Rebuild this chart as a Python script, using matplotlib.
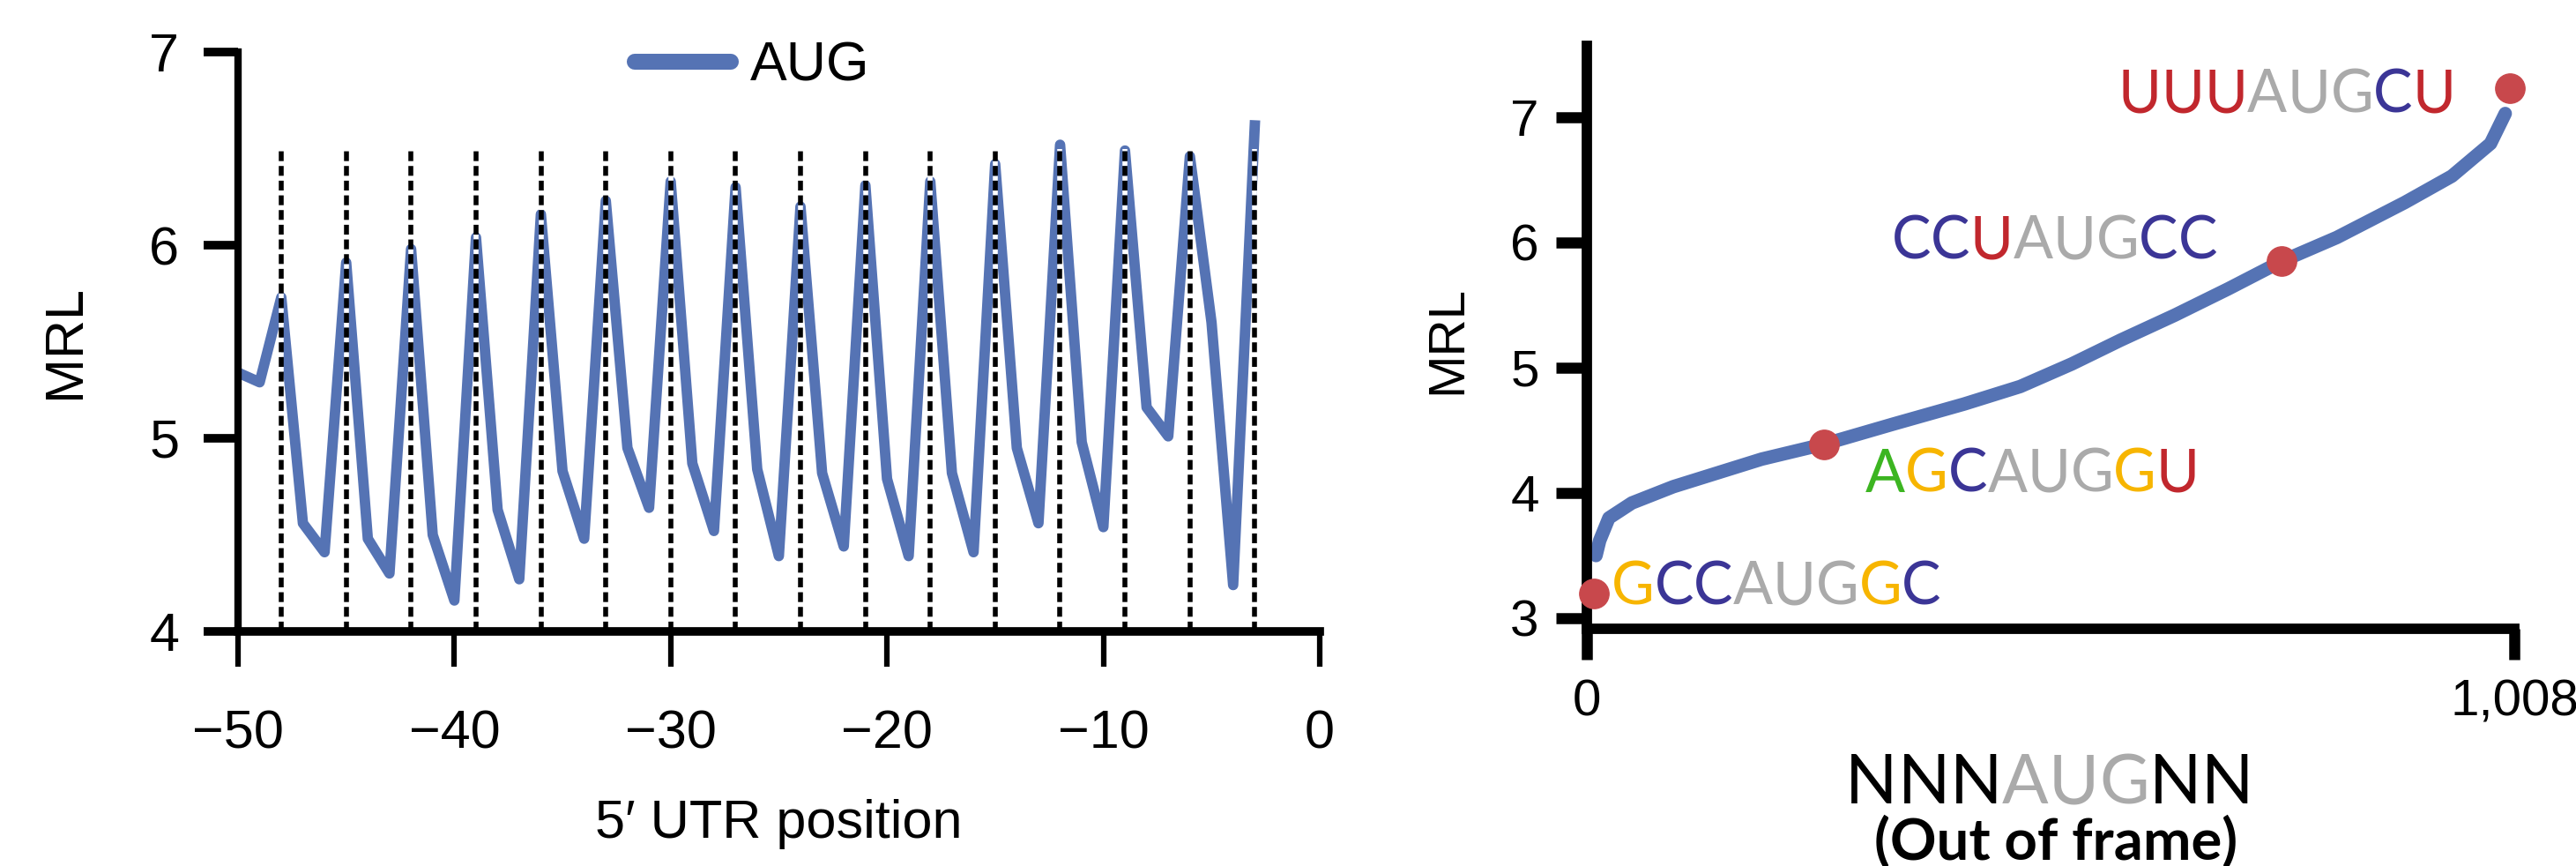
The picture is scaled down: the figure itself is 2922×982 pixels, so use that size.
import matplotlib.pyplot as plt
import numpy as np

plt.rcParams['font.family'] = ['Liberation Sans', 'DejaVu Sans']

# left panel: MRL by AUG position in the 5' UTR
positions = list(range(-50, -2))
aug_mrl = [5.34, 5.29, 5.73, 4.56, 4.41, 5.91, 4.48, 4.30, 5.98, 4.50,
           4.16, 6.04, 4.63, 4.27, 6.16, 4.83, 4.48, 6.23, 4.95, 4.64,
           6.33, 4.87, 4.52, 6.30, 4.84, 4.39, 6.20, 4.82, 4.44, 6.31,
           4.79, 4.39, 6.33, 4.82, 4.41, 6.42, 4.95, 4.56, 6.52, 4.98,
           4.54, 6.49, 5.16, 5.01, 6.46, 5.60, 4.24, 6.62]
frame_marks = list(range(-48, -2, 3))
left_xticks = [-50, -40, -30, -20, -10, 0]
left_yticks = [4, 5, 6, 7]

# right panel: sorted MRL of NNNAUGNN variants (out of frame)
rank = [10, 14, 24, 49, 94, 142, 190, 258, 333, 410, 471, 527, 580, 639,
        697, 755, 815, 889, 940, 982, 998]
rank_mrl = [3.50, 3.62, 3.80, 3.92, 4.05, 4.16, 4.27, 4.39, 4.55, 4.71,
            4.85, 5.03, 5.22, 5.42, 5.63, 5.85, 6.04, 6.32, 6.53, 6.79, 7.03]
seqs = ['GCCAUGGC', 'AGCAUGGU', 'CCUAUGCC', 'UUUAUGCU']
seq_rank = [8, 258, 755, 1003]
seq_mrl = [3.20, 4.39, 5.85, 7.23]
right_xticks = [0, 1008]
right_xlabels = ['0', '1,008']
right_yticks = [3, 4, 5, 6, 7]

BLUE = '#5573b4'
RED_DOT = '#c8484c'
GRAY = '#aaaaaa'
NUC = {'U': '#c1272d', 'C': '#3b3596', 'G': '#f7b500', 'A': '#3cb521', 'N': 'black'}


def draw_seq(ax, x, y, seq, size, transform):
    """letters coloured by nucleotide, the AUG core in grey"""
    t = None
    for i, ch in enumerate(seq):
        c = GRAY if 3 <= i <= 5 else NUC[ch]
        if t is None:
            t = ax.text(x, y, ch, color=c, fontsize=size, family='Lato',
                        transform=transform, va='baseline', ha='left')
        else:
            t = ax.annotate(ch, xy=(1, 0), xycoords=t, color=c, fontsize=size,
                            family='Lato', va='bottom', annotation_clip=False)


fig = plt.figure(figsize=(29.22, 9.82), dpi=100)

# ---- left panel
ax1 = fig.add_axes([0.0924, 0.2709, 0.4199, 0.669])
ax1.plot(positions, aug_mrl, color=BLUE, lw=8.5, label='AUG', zorder=2,
         solid_joinstyle='round')
for m in frame_marks:
    ax1.plot([m, m], [4, 6.5], color='black', lw=4.0, linestyle=(0, (2.0, 1.0)),
             gapcolor='white', zorder=3)
ax1.set_xlim(-50, 0)
ax1.set_ylim(4, 7)
ax1.set_xticks(left_xticks)
ax1.set_yticks(left_yticks)
for s in ['top', 'right']:
    ax1.spines[s].set_visible(False)
ax1.spines['left'].set_linewidth(6)
ax1.spines['bottom'].set_linewidth(7)
ax1.tick_params(axis='x', length=29, width=4.5, pad=35, labelsize=44)
ax1.tick_params(axis='y', length=28, width=7, pad=20, labelsize=44)
ax1.set_ylabel('MRL', fontsize=44, va='center')
ax1.yaxis.set_label_coords(-0.159, 0.5)
ax1.set_xlabel('5\u2032 UTR position', fontsize=44, va='baseline')
ax1.xaxis.set_label_coords(0.5, -0.356)
leg = ax1.legend(loc='center left', bbox_to_anchor=(0.2464, 0.9236),
                 bbox_transform=fig.transFigure, frameon=False, fontsize=45,
                 handlelength=1.74, handletextpad=0.36, borderpad=0, borderaxespad=0)
leg.get_lines()[0].set_linewidth(13)
leg.get_lines()[0].set_solid_capstyle('round')

# ---- right panel
ax2 = fig.add_axes([0.6160, 0.2739, 0.3601, 0.6731])
ax2.plot(rank, rank_mrl, color=BLUE, lw=11, solid_capstyle='round',
         solid_joinstyle='round')
ax2.plot(seq_rank, seq_mrl, 'o', color=RED_DOT, ms=24, clip_on=False, zorder=4)
ax2.set_xlim(0, 1008)
ax2.set_ylim(2.915, 7.57)
ax2.set_xticks(right_xticks)
ax2.set_xticklabels(right_xlabels)
ax2.set_yticks(right_yticks)
for s in ['top', 'right']:
    ax2.spines[s].set_visible(False)
for s in ['left', 'bottom']:
    ax2.spines[s].set_linewidth(8.5)
ax2.tick_params(axis='x', length=25, width=9, pad=16, labelsize=42)
ax2.tick_params(axis='y', length=25, width=9, pad=14, labelsize=42)
ax2.set_ylabel('MRL', fontsize=42, va='center')
ax2.yaxis.set_label_coords(-0.1495, 0.496)

label_pos = [(27, 3.11), (303, 4.01), (331, 5.87), (577, 7.04)]
for seq, (lx, ly) in zip(seqs, label_pos):
    draw_seq(ax2, lx, ly, seq, 48, ax2.transData)

draw_seq(ax2, 0.7163, 0.0723, 'NNNAUGNN', 56, fig.transFigure)
fig.text(0.798, 0.0071, '(Out of frame)', ha='center', va='baseline',
         fontsize=47, fontweight='bold', family='Lato')

fig.savefig('out.png', dpi=100)
